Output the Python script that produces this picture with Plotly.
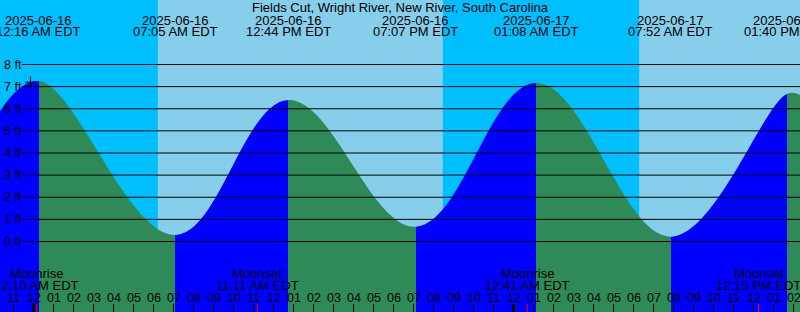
import pandas as pd
import plotly.graph_objects as go

# ---------------- data ----------------
title = "Fields Cut, Wright River, New River, South Carolina"
origin = pd.Timestamp("2025-06-16 00:00")
view_start = "2025-06-15 22:19:30"
view_end = "2025-06-17 14:19:30"

tide_times = ["2025-06-16 00:16", "2025-06-16 07:05", "2025-06-16 12:44",
              "2025-06-16 19:07", "2025-06-17 01:08", "2025-06-17 07:52",
              "2025-06-17 13:40"]
tide_heights = [7.25, 0.29, 6.40, 0.67, 7.16, 0.22, 6.67]   # ft
edge_heights = [5.9, 6.62]   # curve height at the left / right edge of the view

sunrise_times = ["2025-06-16 06:13", "2025-06-17 06:17"]
sunset_times = ["2025-06-16 20:28"]

moon_events = ["Moonrise", "Moonset", "Moonrise", "Moonset"]
moon_times = ["2025-06-16 00:10", "2025-06-16 11:11",
              "2025-06-17 00:41", "2025-06-17 12:15"]

now_time = "2025-06-15 23:51"
now_height = 7.2

ft_levels = [0, 1, 2, 3, 4, 5, 6, 7, 8]
ft_labels = [f"{v} ft" for v in ft_levels]

# ---------------- styles ----------------
W, H = 800, 312
DAY = "#87CEEB"
NIGHT = "#00BFFF"
RISE = "#0000FF"
FALL = "#2E8B57"
FONT = "Liberation Sans, Arial, sans-serif"


def hrs(s):
    return (pd.Timestamp(s) - origin).total_seconds() / 3600.0


def py(p):  # pixel row -> paper y
    return 1 - p / H


x0, x1 = hrs(view_start), hrs(view_end)
cx = [x0] + [hrs(t) for t in tide_times] + [x1]
cy = [edge_heights[0]] + tide_heights + [edge_heights[1]]

# horizontal gradient with hard stops: blue while rising, green while falling
scale = []
for k in range(len(cx) - 1):
    c = RISE if cy[k + 1] > cy[k] else FALL
    fa = (cx[k] - x0) / (x1 - x0)
    fb = (cx[k + 1] - x0) / (x1 - x0)
    scale.append([max(0.0, min(1.0, fa)), c])
    scale.append([max(0.0, min(1.0, fb)), c])
scale[0][0] = 0.0
scale[-1][0] = 1.0

fig = go.Figure()
fig.add_trace(go.Scatter(x=[x0, x1], y=[-4, -4], mode="lines",
                         line=dict(width=0), hoverinfo="skip", showlegend=False))
fig.add_trace(go.Scatter(
    x=cx, y=cy, mode="lines", fill="tonexty",
    line=dict(width=0, shape="spline", smoothing=1.1, color=FALL),
    fillgradient=dict(type="horizontal", colorscale=scale, start=x0, stop=x1),
    hoverinfo="skip", showlegend=False))
fig.add_trace(go.Scatter(
    x=[hrs(now_time)], y=[now_height], mode="markers",
    marker=dict(symbol="cross-thin", size=8, line=dict(width=1, color="black")),
    hoverinfo="skip", showlegend=False))

shapes = []
# night shading
night_spans = [(x0, hrs(sunrise_times[0])), (hrs(sunset_times[0]), hrs(sunrise_times[1]))]
for a, b in night_spans:
    shapes.append(dict(type="rect", xref="x", yref="paper", x0=a, x1=b, y0=0, y1=1,
                       fillcolor=NIGHT, line=dict(width=0), layer="below"))
# horizontal grid lines
for v in ft_levels:
    shapes.append(dict(type="line", xref="paper", yref="y", x0=22 / W, x1=1, y0=v, y1=v,
                       line=dict(color="black", width=1), layer="above"))
# thick midnight ticks
for d in [0, 24]:
    shapes.append(dict(type="line", xref="x", yref="paper", x0=d, x1=d, y0=0, y1=8 / H,
                       line=dict(color="black", width=3), layer="above"))
# moon event ticks
for t in moon_times:
    shapes.append(dict(type="line", xref="x", yref="paper", x0=hrs(t), x1=hrs(t),
                       y0=0, y1=8 / H, line=dict(color="red", width=1), layer="above"))

ann = []


def text(x, y, s, xref="x", xanchor="center", size=13):
    ann.append(dict(x=x, y=y, xref=xref, yref="paper", text=s, showarrow=False,
                    xanchor=xanchor, yanchor="middle",
                    font=dict(family=FONT, size=size, color="black")))


text(0.5, py(7.5), title, xref="paper")
for t in tide_times:
    ts = pd.Timestamp(t)
    text(hrs(t), py(20), ts.strftime("%Y-%m-%d"))
    text(hrs(t), py(31.7), ts.strftime("%I:%M %p") + " EDT")
for name, t in zip(moon_events, moon_times):
    ts = pd.Timestamp(t)
    text(hrs(t), py(273.3), name)
    text(hrs(t), py(285.7), ts.strftime("%I:%M %p") + " EDT")

hour_ticks = list(range(-1, 39))
for h in hour_ticks:
    lab = f"{(h % 12) or 12:02d}"
    text(h, py(297.7), lab, size=12.5)

for v, lab in zip(ft_levels, ft_labels):
    ann.append(dict(x=2 / W, y=v, xref="paper", yref="y", text=lab, showarrow=False,
                    xanchor="left", yanchor="middle",
                    font=dict(family=FONT, size=12.5, color="black")))

fig.update_layout(
    width=W, height=H, margin=dict(l=0, r=0, t=0, b=0, pad=0),
    plot_bgcolor=DAY, paper_bgcolor=DAY,
    shapes=shapes, annotations=ann, showlegend=False,
    xaxis=dict(range=[x0, x1], showgrid=False, zeroline=False, showticklabels=False,
               ticks="inside", ticklen=8, tickwidth=1, tickcolor="black",
               tickvals=hour_ticks, showline=False, fixedrange=True),
    yaxis=dict(range=[(241.5 - H) / 22.125, 241.5 / 22.125], visible=False,
               fixedrange=True),
)

fig.write_html("out.html", config={"displayModeBar": False})
